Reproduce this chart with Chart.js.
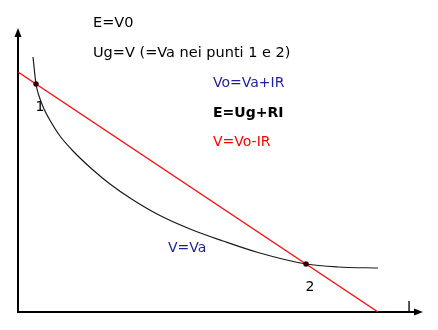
<!DOCTYPE html>
<html>
<head>
<meta charset="utf-8">
<script src="https://cdn.jsdelivr.net/npm/chart.js@4/dist/chart.umd.min.js"></script>
<style>
  html, body { margin: 0; padding: 0; background: #fff; }
  #wrap { width: 438px; height: 330px; }
</style>
</head>
<body>
<div id="wrap"><canvas id="grafico" width="438" height="330"></canvas></div>
<script>
// caratteristica del carico V=Va (curva)
const curveI = [15, 18, 21, 26, 33, 42, 55, 75, 92, 112, 139, 172, 205, 240, 288, 320, 360];
const curveV = [255, 228, 216, 203, 190, 176, 161, 142, 128, 114, 98, 83, 71, 59.5, 48, 45, 44];
// retta del generatore V=Vo-IR
const lineI = [0, 360];
const lineV = [240, 0];
// punti di lavoro 1 e 2
const pointI = [18, 288];
const pointV = [228, 48];
const pointLabels = ['1', '2'];

const FONT = '"DejaVu Sans", sans-serif';

function toXY(xs, ys) {
    return xs.map((x, i) => ({ x: x, y: ys[i] }));
}

// assi con frecce e testi
const decor = {
    id: 'decor',
    beforeDatasetsDraw(chart) {
        const ctx = chart.ctx;
        const a = chart.chartArea;
        ctx.save();
        ctx.strokeStyle = '#000';
        ctx.fillStyle = '#000';
        ctx.lineWidth = 2;
        ctx.beginPath();
        ctx.moveTo(a.left, a.top + 6);
        ctx.lineTo(a.left, a.bottom);
        ctx.lineTo(a.right - 6, a.bottom);
        ctx.stroke();
        // freccia verticale
        ctx.beginPath();
        ctx.moveTo(a.left, a.top);
        ctx.lineTo(a.left - 3.5, a.top + 9);
        ctx.lineTo(a.left + 3.5, a.top + 9);
        ctx.closePath();
        ctx.fill();
        // freccia orizzontale
        ctx.beginPath();
        ctx.moveTo(a.right, a.bottom);
        ctx.lineTo(a.right - 9, a.bottom - 3.5);
        ctx.lineTo(a.right - 9, a.bottom + 3.5);
        ctx.closePath();
        ctx.fill();
        ctx.restore();
    },
    afterDatasetsDraw(chart) {
        const ctx = chart.ctx;
        const xs = chart.scales.x, ys = chart.scales.y;
        const a = chart.chartArea;
        ctx.save();
        ctx.textBaseline = 'alphabetic';
        ctx.textAlign = 'left';
        ctx.font = '14.5px ' + FONT;
        ctx.fillStyle = '#000';
        ctx.fillText('E=V0', 93, 27);
        ctx.fillText('Ug=V (=Va nei punti 1 e 2)', 93, 57);
        ctx.font = '14px ' + FONT;
        ctx.fillStyle = '#1f1f96';
        ctx.fillText('Vo=Va+IR', 213, 87);
        ctx.font = 'bold 14px ' + FONT;
        ctx.fillStyle = '#000';
        ctx.fillText('E=Ug+RI', 213, 117);
        ctx.font = '14px ' + FONT;
        ctx.fillStyle = '#ff0000';
        ctx.fillText('V=Vo-IR', 213, 146);
        ctx.fillStyle = '#1f1f96';
        ctx.fillText('V=Va', 168, 252);
        // etichette dei punti
        ctx.fillStyle = '#000';
        ctx.textAlign = 'center';
        ctx.font = '14px ' + FONT;
        pointLabels.forEach((t, i) => {
            const px = xs.getPixelForValue(pointI[i]);
            const py = ys.getPixelForValue(pointV[i]);
            ctx.fillText(t, px + 4, py + 27);
        });
        ctx.fillText('I', a.right - 14, a.bottom - 1);
        ctx.restore();
    }
};

const ctxGrafico = document.getElementById('grafico').getContext('2d');
const grafico = new Chart(ctxGrafico, {
    type: 'scatter',
    data: {
        datasets: [
            {
                label: 'V=Va',
                data: toXY(curveI, curveV),
                showLine: true,
                borderColor: '#1a1a1a',
                borderWidth: 1.2,
                pointRadius: 0,
                cubicInterpolationMode: 'monotone',
                order: 2
            },
            {
                label: 'V=Vo-IR',
                data: toXY(lineI, lineV),
                showLine: true,
                borderColor: '#ff0000',
                borderWidth: 1.2,
                pointRadius: 0,
                order: 1
            },
            {
                label: 'punti',
                data: toXY(pointI, pointV),
                showLine: false,
                pointRadius: 2.5,
                pointBackgroundColor: '#3a0000',
                pointBorderColor: '#1a0000',
                pointBorderWidth: 0.5,
                order: 0
            }
        ]
    },
    options: {
        responsive: false,
        animation: false,
        layout: { padding: { left: 18, right: 15, top: 28, bottom: 18 } },
        scales: {
            x: { type: 'linear', min: 0, max: 405, display: false },
            y: { type: 'linear', min: 0, max: 284, display: false }
        },
        plugins: {
            legend: { display: false },
            title: { display: false },
            tooltip: { enabled: false }
        }
    },
    plugins: [decor]
});
</script>
</body>
</html>
